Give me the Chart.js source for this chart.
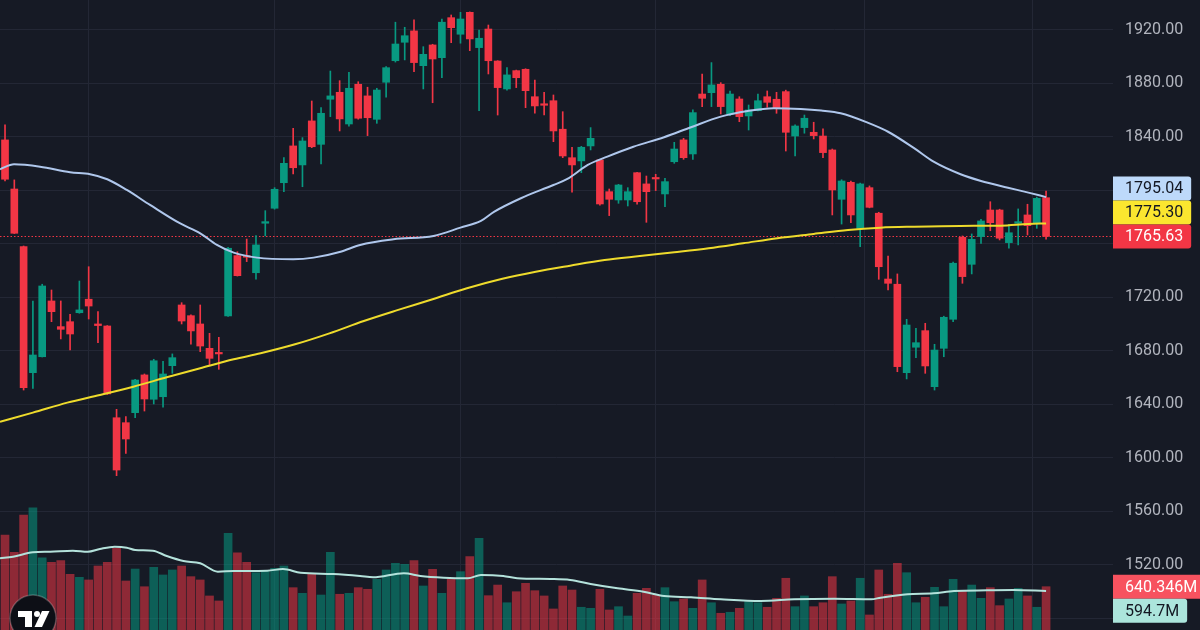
<!DOCTYPE html>
<html>
<head>
<meta charset="utf-8">
<script src="https://cdn.jsdelivr.net/npm/chart.js@4.4.1/dist/chart.umd.min.js"></script>
<style>
  html, body { margin: 0; padding: 0; background: #161a25; overflow: hidden; }
  #wrap { position: relative; width: 1200px; height: 630px; }
</style>
</head>
<body>
<div id="wrap"><canvas id="chart"></canvas></div>
<script>
// daily candles
const opens = [
  1837.8, 1801.1, 1758.0, 1663.8, 1675.7, 1717.4, 1698.2, 1701.9, 1708.6, 1718.7,
  1700.2, 1698.7, 1630.1, 1626.4, 1633.9, 1662.1, 1643.9, 1645.8, 1669.0, 1714.4,
  1706.4, 1700.2, 1682.0, 1678.7, 1706.2, 1751.3, 1751.3, 1738.5, 1775.5, 1786.7,
  1805.8, 1833.3, 1819.1, 1852.0, 1834.5, 1868.2, 1873.4, 1849.7, 1879.4, 1870.7,
  1853.2, 1880.9, 1897.0, 1910.8, 1919.3, 1893.3, 1908.8, 1899.3, 1929.2, 1916.8,
  1933.2, 1906.8, 1920.7, 1896.8, 1875.9, 1889.6, 1890.6, 1870.1, 1864.7, 1867.1,
  1845.8, 1824.5, 1822.1, 1833.3, 1822.8, 1799.1, 1792.9, 1792.9, 1813.3, 1804.9,
  1809.6, 1797.4, 1821.5, 1837.8, 1827.3, 1872.1, 1873.1, 1879.4, 1857.2, 1868.4,
  1855.7, 1859.7, 1870.1, 1868.2, 1873.9, 1840.7, 1847.0, 1843.5, 1840.7, 1830.3,
  1793.4, 1806.1, 1771.7, 1802.1, 1783.0, 1733.8, 1729.9, 1663.8, 1682.8, 1695.2,
  1653.3, 1682.0, 1703.7, 1765.0, 1744.8, 1765.5, 1785.4, 1785.4, 1761.0, 1775.5,
  1781.7, 1775.5, 1794.6
];
const highs = [
  1849.0, 1807.9, 1758.5, 1717.4, 1729.9, 1725.6, 1717.4, 1707.4, 1732.3, 1743.0,
  1709.4, 1699.0, 1636.4, 1630.9, 1658.8, 1662.8, 1673.8, 1672.3, 1677.8, 1716.1,
  1707.0, 1714.4, 1693.2, 1690.2, 1757.5, 1754.2, 1763.7, 1766.2, 1784.9, 1802.1,
  1824.5, 1846.5, 1839.5, 1866.9, 1861.9, 1889.3, 1882.1, 1888.4, 1881.3, 1877.2,
  1876.4, 1892.6, 1925.8, 1922.0, 1927.5, 1907.5, 1909.3, 1928.2, 1931.2, 1933.2,
  1933.5, 1920.0, 1923.7, 1897.0, 1891.8, 1890.0, 1891.0, 1882.6, 1873.4, 1871.4,
  1858.9, 1832.3, 1833.0, 1847.0, 1823.0, 1801.1, 1804.6, 1802.1, 1813.6, 1810.8,
  1812.1, 1809.1, 1836.0, 1839.0, 1860.2, 1887.1, 1895.6, 1880.6, 1874.4, 1870.1,
  1863.9, 1872.1, 1874.4, 1873.4, 1875.0, 1849.0, 1856.4, 1851.0, 1846.0, 1831.0,
  1808.0, 1807.0, 1805.5, 1803.4, 1783.7, 1751.0, 1737.6, 1703.7, 1697.0, 1700.7,
  1685.0, 1706.0, 1746.5, 1766.0, 1767.5, 1778.5, 1791.6, 1786.0, 1774.7, 1786.2,
  1789.7, 1795.0, 1799.6
];
const lows = [
  1807.1, 1767.8, 1650.8, 1652.1, 1675.5, 1701.9, 1689.0, 1680.7, 1708.2, 1703.9,
  1686.2, 1647.5, 1586.8, 1603.5, 1630.1, 1635.1, 1640.4, 1637.9, 1663.3, 1700.2,
  1685.0, 1679.5, 1669.5, 1666.3, 1705.8, 1736.0, 1746.8, 1733.6, 1766.0, 1786.0,
  1799.1, 1812.3, 1802.8, 1832.0, 1819.8, 1855.2, 1844.5, 1848.0, 1853.3, 1841.0,
  1850.2, 1869.7, 1896.0, 1897.6, 1888.8, 1875.9, 1865.6, 1884.3, 1910.5, 1910.1,
  1904.5, 1859.7, 1887.1, 1856.4, 1875.0, 1876.9, 1861.9, 1857.7, 1856.4, 1836.5,
  1824.5, 1798.7, 1813.3, 1830.3, 1789.0, 1781.2, 1790.4, 1788.4, 1789.7, 1776.2,
  1799.9, 1787.9, 1820.3, 1823.3, 1823.3, 1862.7, 1862.7, 1857.2, 1855.9, 1851.4,
  1845.2, 1859.5, 1862.2, 1857.7, 1829.5, 1825.8, 1842.8, 1838.5, 1824.5, 1781.7,
  1774.9, 1775.9, 1758.0, 1787.0, 1733.6, 1725.6, 1664.5, 1659.1, 1675.0, 1663.3,
  1650.8, 1675.7, 1701.9, 1730.6, 1737.6, 1760.5, 1769.9, 1763.0, 1756.8, 1759.3,
  1766.7, 1771.7, 1763.5
];
const closes = [
  1808.4, 1768.0, 1652.6, 1677.0, 1728.6, 1709.4, 1696.2, 1692.7, 1710.7, 1713.6,
  1699.0, 1647.9, 1591.0, 1614.2, 1658.3, 1644.1, 1672.7, 1662.8, 1675.0, 1702.4,
  1695.0, 1683.7, 1674.5, 1677.8, 1756.8, 1736.3, 1750.1, 1759.3, 1776.7, 1800.9,
  1820.3, 1817.0, 1837.0, 1832.7, 1857.7, 1870.7, 1853.5, 1876.4, 1854.0, 1854.4,
  1875.1, 1891.8, 1909.5, 1915.7, 1895.6, 1901.8, 1898.3, 1925.8, 1921.7, 1928.2,
  1913.3, 1913.8, 1897.0, 1876.9, 1886.4, 1884.3, 1874.6, 1863.2, 1863.7, 1844.5,
  1825.8, 1819.1, 1832.3, 1839.0, 1789.9, 1793.4, 1804.1, 1799.1, 1791.6, 1799.1,
  1808.6, 1806.6, 1831.0, 1824.5, 1858.2, 1868.9, 1878.9, 1862.7, 1872.1, 1855.2,
  1860.2, 1867.1, 1865.9, 1861.9, 1843.5, 1848.2, 1854.0, 1841.0, 1828.3, 1800.4,
  1807.1, 1781.7, 1804.9, 1787.4, 1743.0, 1730.6, 1668.3, 1699.4, 1686.2, 1668.8,
  1680.7, 1705.2, 1745.6, 1735.6, 1763.5, 1777.2, 1775.9, 1764.3, 1768.4, 1776.7,
  1773.7, 1794.1, 1765.63
];
// volume in millions
const volumes = [
  1189, 1006, 1402, 1479, 948, 900, 917, 772, 740, 712,
  860, 900, 1048, 701, 828, 640, 846, 765, 818, 860,
  747, 712, 542, 489, 1207, 1001, 900, 789, 807, 836,
  860, 630, 570, 772, 552, 1006, 560, 570, 630, 613,
  719, 818, 889, 878, 917, 648, 825, 570, 722, 800,
  959, 1154, 545, 658, 470, 587, 676, 598, 542, 404,
  648, 605, 422, 411, 613, 393, 428, 329, 570, 623,
  552, 630, 481, 510, 411, 712, 470, 358, 369, 411,
  481, 470, 422, 517, 730, 428, 542, 428, 470, 747,
  457, 489, 730, 340, 818, 560, 889, 789, 470, 528,
  634, 428, 719, 595, 658, 517, 630, 439, 510, 623,
  542, 422, 640.346
];

// moving averages, sampled along the lines (x = candle index)
const maFastIdx = [-0.54, 0.97, 3.77, 7.0, 9.15, 11.0, 13.1, 15.6, 18.8, 21.0, 22.8, 24.6, 27.1, 31.0, 33.2, 36.1,
  38.2, 41.8, 46.1, 49.0, 51.2, 52.6, 55.5, 59.0, 60.5, 62.7, 64.8, 67.6, 70.9, 73.8, 77.0, 79.9,
  82.7, 85.6, 87.8, 89.9, 92.8, 95.0, 97.8, 99.9, 102.8, 105.0, 107.9, 110.1, 112];
const maFast = [1815.9, 1819.6, 1817.8, 1813.6, 1812.1, 1808.4, 1800.4, 1789.2, 1775.5, 1768.0, 1759.3, 1753.5, 1749.8, 1748.6, 1749.8, 1754.2,
  1759.3, 1763.5, 1766.0, 1772.2, 1777.2, 1784.0, 1794.2, 1804.1, 1808.6, 1819.1, 1825.3, 1832.7, 1839.8, 1847.3, 1855.2, 1859.4,
  1861.5, 1860.9, 1859.7, 1857.7, 1850.7, 1843.9, 1831.6, 1821.5, 1812.1, 1807.1, 1802.1, 1798.4, 1795.04];

const maSlowIdx = [-0.54, 3.0, 6.7, 10.2, 13.8, 17.4, 21.0, 24.6, 27.5, 31.2, 34.9, 38.6, 42.3, 46.0, 49.7, 53.4,
  57.1, 60.8, 64.5, 68.3, 72.0, 75.7, 79.4, 83.1, 87.0, 90.7, 94.2, 97.8, 102.8, 107.1, 110.1, 112];
const maSlow = [1627.1, 1633.9, 1641.4, 1647.1, 1653.3, 1660.3, 1667.1, 1673.8, 1678.3, 1685.0, 1693.2, 1702.4, 1710.7, 1718.7, 1726.9, 1733.8,
  1739.3, 1743.8, 1748.0, 1751.0, 1753.8, 1756.8, 1760.5, 1764.3, 1767.5, 1770.5, 1772.2, 1772.9, 1773.5, 1773.7, 1775.0, 1775.30];

const volMaIdx = [-0.54, 0.86, 3.0, 4.85, 7.3, 8.9, 10.2, 11.8, 13.1, 14.0, 15.9, 17.4, 19.2, 21.0, 22.9, 24.6,
  28.2, 29.9, 31.8, 35.3, 38.2, 39.6, 42.9, 44.7, 47.2, 49.8, 51.2, 53.6, 55.1, 58.7, 60.8, 63.0,
  65.9, 68.7, 70.9, 73.8, 77.0, 81.3, 84.9, 89.2, 93.2, 94.2, 97.1, 99.9, 102.1, 105.7, 108.5, 112];
const volMa = [942, 959, 1006, 1012, 1023, 1012, 1041, 1065, 1055, 1030, 1023, 966, 913, 889, 800, 807,
  810, 828, 789, 775, 754, 740, 783, 754, 736, 730, 765, 754, 730, 722, 712, 669,
  623, 587, 542, 528, 507, 489, 507, 513, 507, 524, 560, 570, 595, 602, 605, 594.7];

const priceTicks = [1480, 1520, 1560, 1600, 1640, 1680, 1720, 1760, 1800, 1840, 1880, 1920];
const monthLines = [19, 39, 59, 81, 104, 117];

const BG = "#161a25";
const GRID = "#232735";
const UP = "#089981";
const DOWN = "#f23645";
const FONT = "Roboto, 'Noto Sans', sans-serif";

const isUp = closes.map((c, i) => c >= opens[i]);
const candleColors = isUp.map(u => (u ? UP : DOWN));
const volColors = isUp.map(u => (u ? "rgba(8,153,129,0.55)" : "rgba(242,54,69,0.55)"));

const last = a => a[a.length - 1];

function fmtVol(v) {
  return parseFloat(v.toFixed(3)).toString() + "M";
}

const bgPlugin = {
  id: "bg",
  beforeDraw(chart) {
    const c = chart.ctx;
    c.save();
    c.fillStyle = BG;
    c.fillRect(0, 0, chart.width, chart.height);
    c.restore();
  },
};

// dotted line at the last close
const priceLine = {
  id: "priceLine",
  beforeDatasetsDraw(chart) {
    const c = chart.ctx;
    const area = chart.chartArea;
    const y = Math.round(chart.scales.y.getPixelForValue(last(closes))) + 0.5;
    c.save();
    c.strokeStyle = DOWN;
    c.lineWidth = 1;
    c.setLineDash([1.5, 2]);
    c.beginPath();
    c.moveTo(area.left, y);
    c.lineTo(area.right, y);
    c.stroke();
    c.restore();
  },
};

function drawTag(c, x, y, text, bg, fg) {
  c.font = "16px " + FONT;
  const w = c.measureText(text).width + 20;
  c.fillStyle = bg;
  c.beginPath();
  c.roundRect(x, y - 12, w, 24, [0, 3, 3, 0]);
  c.fill();
  c.fillStyle = fg;
  c.textAlign = "left";
  c.textBaseline = "middle";
  c.fillText(text, x + 12, y + 1);
}

// value tags on the right axis, stacked when they overlap
const tags = {
  id: "tags",
  afterDraw(chart) {
    const c = chart.ctx;
    const x = chart.chartArea.right;
    const ys = chart.scales.y;
    const yv = chart.scales.yv;
    const price = [
      { y: ys.getPixelForValue(last(maFast)), t: last(maFast).toFixed(2), bg: "#bdd9fa", fg: "#131722" },
      { y: ys.getPixelForValue(last(maSlow)), t: last(maSlow).toFixed(2), bg: "#fbe62f", fg: "#131722" },
      { y: ys.getPixelForValue(last(closes)), t: last(closes).toFixed(2), bg: DOWN, fg: "#ffffff" },
    ];
    for (let i = price.length - 2; i >= 0; i--) {
      price[i].y = Math.min(price[i].y, price[i + 1].y - 24);
    }
    const vol = [
      { y: yv.getPixelForValue(last(volumes)), t: fmtVol(last(volumes)), bg: "#f7525f", fg: "#ffffff" },
      { y: yv.getPixelForValue(last(volMa)), t: fmtVol(last(volMa)), bg: "#ace5dc", fg: "#131722" },
    ];
    for (let i = 1; i < vol.length; i++) {
      vol[i].y = Math.max(vol[i].y, vol[i - 1].y + 24);
    }
    c.save();
    price.concat(vol).forEach(p => drawTag(c, x, p.y, p.t, p.bg, p.fg));
    c.restore();
  },
};

// small TradingView badge, bottom left
const logo = {
  id: "logo",
  afterDraw(chart) {
    const c = chart.ctx;
    c.save();
    c.beginPath();
    c.arc(33, 618, 23, 0, Math.PI * 2);
    c.fillStyle = "#0d0f16";
    c.fill();
    c.strokeStyle = "rgba(255,255,255,0.22)";
    c.lineWidth = 1.5;
    c.stroke();
    c.fillStyle = "#ffffff";
    c.fillRect(18, 611, 14, 6);
    c.fillRect(25, 611, 7, 16);
    c.beginPath();
    c.arc(37, 614, 3, 0, Math.PI * 2);
    c.fill();
    c.beginPath();
    c.moveTo(42, 611);
    c.lineTo(49.5, 611);
    c.lineTo(42, 627);
    c.lineTo(34.5, 627);
    c.closePath();
    c.fill();
    c.restore();
  },
};

const ctx = document.getElementById("chart").getContext("2d");
new Chart(ctx, {
  type: "bar",
  data: {
    datasets: [
      {
        type: "line",
        label: "MA fast",
        data: maFastIdx.map((x, i) => ({ x: x, y: maFast[i] })),
        yAxisID: "y",
        borderColor: "#afc7ec",
        borderWidth: 2,
        pointRadius: 0,
        cubicInterpolationMode: "monotone",
        order: 1,
      },
      {
        type: "line",
        label: "MA slow",
        data: maSlowIdx.map((x, i) => ({ x: x, y: maSlow[i] })),
        yAxisID: "y",
        borderColor: "#eedb2c",
        borderWidth: 2,
        pointRadius: 0,
        cubicInterpolationMode: "monotone",
        order: 2,
      },
      {
        label: "Body",
        data: opens.map((o, i) => ({ x: i, y: [o, closes[i]] })),
        yAxisID: "y",
        backgroundColor: candleColors,
        barThickness: 7,
        minBarLength: 1.5,
        grouped: false,
        order: 3,
      },
      {
        label: "Wick",
        data: lows.map((l, i) => ({ x: i, y: [l, highs[i]] })),
        yAxisID: "y",
        backgroundColor: candleColors,
        barThickness: 1,
        grouped: false,
        order: 4,
      },
      {
        type: "line",
        label: "Vol MA",
        data: volMaIdx.map((x, i) => ({ x: x, y: volMa[i] })),
        yAxisID: "yv",
        borderColor: "#b4e2db",
        borderWidth: 2,
        pointRadius: 0,
        cubicInterpolationMode: "monotone",
        order: 5,
      },
      {
        label: "Volume",
        data: volumes.map((v, i) => ({ x: i, y: v })),
        yAxisID: "yv",
        backgroundColor: volColors,
        barThickness: 8,
        grouped: false,
        order: 6,
      },
    ],
  },
  options: {
    responsive: true,
    maintainAspectRatio: false,
    animation: false,
    layout: { padding: 0 },
    plugins: {
      legend: { display: false },
      tooltip: { enabled: false },
    },
    scales: {
      x: {
        type: "linear",
        min: -0.54,
        max: 119.2,
        offset: false,
        afterBuildTicks: s => {
          s.ticks = monthLines.map(v => ({ value: v }));
        },
        afterFit: s => {
          s.height = 0;
          s.paddingLeft = 0;
          s.paddingRight = 0;
        },
        ticks: { display: false },
        grid: { color: GRID, drawTicks: false },
        border: { display: false },
      },
      y: {
        position: "right",
        min: 1471.4,
        max: 1942.4,
        afterBuildTicks: s => {
          s.ticks = priceTicks.map(v => ({ value: v }));
        },
        afterFit: s => {
          s.width = 87;
          s.paddingTop = 0;
          s.paddingBottom = 0;
        },
        ticks: {
          padding: 12,
          color: "#b2b5be",
          font: { family: FONT, size: 16 },
          callback: v => Number(v).toFixed(2),
        },
        grid: { color: GRID, drawTicks: false },
        border: { display: false },
      },
      yv: {
        display: false,
        min: 180.5,
        max: 6871,
      },
    },
  },
  plugins: [bgPlugin, priceLine, tags, logo],
});
</script>
</body>
</html>
